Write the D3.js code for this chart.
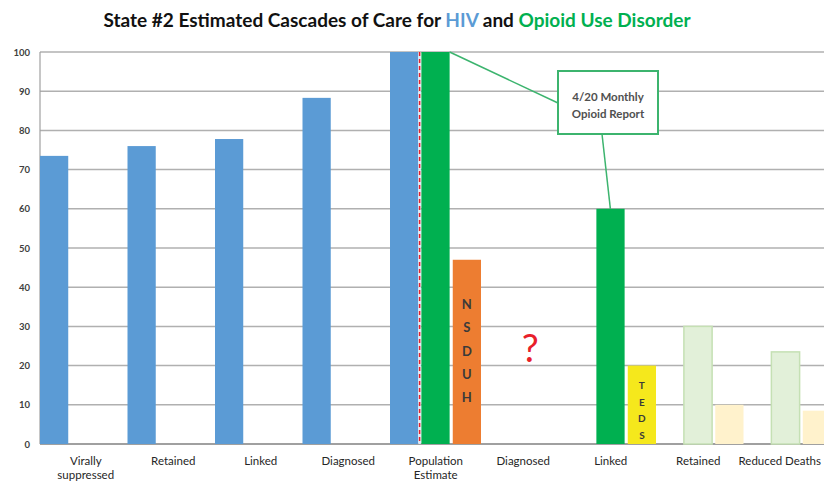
<!DOCTYPE html>
<html>
<head>
<meta charset="utf-8">
<script src="https://cdn.jsdelivr.net/npm/d3@7"></script>
<style>
  body { margin: 0; background: #fff; }
  svg { display: block; font-family: Lato, 'Open Sans', sans-serif; }
</style>
</head>
<body>
<div id="chart"></div>
<script>
// chart data
const categories = ['Virally suppressed', 'Retained', 'Linked', 'Diagnosed', 'Population Estimate',
  'Diagnosed', 'Linked', 'Retained', 'Reduced Deaths'];
const hivValues = [73.5, 76, 77.8, 88.3, 100, null, null, null, null];
const oudValues = [null, null, null, null, 100, null, 60, 30, 23.5];
const sourceValues = [null, null, null, null, 47, null, 20, 10, 8.5];
const sourceLabels = [null, null, null, null, 'NSDUH', null, 'TEDS', null, null];
const yTicks = [0, 10, 20, 30, 40, 50, 60, 70, 80, 90, 100];

const hivColors = categories.map(() => '#5b9bd5');
const oudColors = [null, null, null, null, '#00b050', null, '#00b050', '#e2f0d9', '#e2f0d9'];
const sourceColors = [null, null, null, null, '#ed7d31', null, '#f5e81c', '#fff2cc', '#fff2cc'];

const width = 824;
const height = 482;
const plotLeft = 40;
const plotTop = 52;
const plotBottom = 444;

const svg = d3.select('#chart').append('svg')
  .attr('width', width)
  .attr('height', height);

// title
const title = svg.append('text')
  .attr('x', 397)
  .attr('y', 27)
  .attr('text-anchor', 'middle')
  .style('font-size', '19px')
  .style('font-weight', 'bold')
  .attr('fill', '#111');
title.append('tspan').text('State #2 Estimated Cascades of Care for ');
title.append('tspan').attr('fill', '#5b9bd5').text('HIV');
title.append('tspan').text(' and ');
title.append('tspan').attr('fill', '#00b050').text('Opioid Use Disorder');

const x = d3.scaleBand()
  .domain(d3.range(categories.length))
  .range([plotLeft, plotLeft + 87.5 * categories.length]);

const x1 = d3.scaleBand()
  .domain(['hiv', 'oud', 'src'])
  .range([0, 91])
  .paddingInner(0.1);

const y = d3.scaleLinear().domain([0, 100]).range([plotBottom, plotTop]);

// gridlines
svg.append('g')
  .selectAll('line')
  .data(yTicks)
  .enter()
  .append('line')
  .attr('x1', plotLeft)
  .attr('x2', width)
  .attr('y1', (d) => y(d))
  .attr('y2', (d) => y(d))
  .attr('stroke', (d) => (d === 0 ? '#808080' : '#b0b0b0'))
  .attr('stroke-width', 1.5);

svg.append('line')
  .attr('x1', plotLeft).attr('x2', plotLeft)
  .attr('y1', plotTop).attr('y2', plotBottom)
  .attr('stroke', '#a0a0a0')
  .attr('stroke-width', 1.2);

// y tick labels
svg.append('g')
  .selectAll('text')
  .data(yTicks)
  .enter()
  .append('text')
  .attr('x', 30)
  .attr('y', (d) => y(d) + 3.5)
  .attr('text-anchor', 'end')
  .style('font-size', '9.5px')
  .style('font-weight', 'bold')
  .attr('fill', '#404040')
  .text((d) => d);

// bars
const series = [
  { key: 'hiv', values: hivValues, colors: hivColors },
  { key: 'oud', values: oudValues, colors: oudColors },
  { key: 'src', values: sourceValues, colors: sourceColors }
];

series.forEach((s) => {
  svg.append('g')
    .selectAll('rect')
    .data(s.values.map((v, i) => ({ v, i, c: s.colors[i] })).filter((d) => d.v != null))
    .enter()
    .append('rect')
    .attr('x', (d) => x(d.i) + x1(s.key))
    .attr('y', (d) => y(d.v))
    .attr('width', x1.bandwidth())
    .attr('height', (d) => y(0) - y(d.v))
    .attr('fill', (d) => d.c)
    .attr('stroke', (d) => (d.c === '#e2f0d9' ? '#c5e0b4' : 'none'))
    .attr('stroke-width', 1.5);
});

// vertical letters on the source bars
sourceLabels.forEach((lab, i) => {
  if (!lab) return;
  const cx = x(i) + x1('src') + x1.bandwidth() / 2;
  const big = lab === 'NSDUH';
  const startY = big ? 309 : 389;
  const step = big ? 23.3 : 16.5;
  svg.append('g')
    .selectAll('text')
    .data(lab.split(''))
    .enter()
    .append('text')
    .attr('x', cx)
    .attr('y', (d, k) => startY + k * step)
    .attr('text-anchor', 'middle')
    .style('font-size', big ? '13px' : '10px')
    .style('font-weight', 'bold')
    .attr('fill', '#3a3a3a')
    .text((d) => d);
});

// red dashed separator between HIV and OUD population bars
const sepX = x(4) + x1('oud') - 1.8;
svg.append('line')
  .attr('x1', sepX).attr('x2', sepX)
  .attr('y1', plotTop).attr('y2', plotBottom)
  .attr('stroke', '#dce8f5')
  .attr('stroke-width', 2.5);
svg.append('line')
  .attr('x1', sepX).attr('x2', sepX)
  .attr('y1', plotTop).attr('y2', plotBottom)
  .attr('stroke', '#e8202a')
  .attr('stroke-width', 1.5)
  .attr('stroke-dasharray', '4,3');

// question mark for the unknown diagnosed OUD
svg.append('text')
  .attr('x', x(5) + x.bandwidth() / 2 + 9)
  .attr('y', 362)
  .attr('text-anchor', 'middle')
  .style('font-size', '38px')
  .attr('fill', '#e8202a')
  .text('?');

// callout
const boxX = 558, boxY = 71, boxW = 100, boxH = 63;
svg.append('line')
  .attr('x1', x(4) + x1('oud') + x1.bandwidth()).attr('y1', y(oudValues[4]))
  .attr('x2', boxX).attr('y2', boxY + 32)
  .attr('stroke', '#3cb46e').attr('stroke-width', 1.5);
svg.append('line')
  .attr('x1', boxX + 44).attr('y1', boxY + boxH)
  .attr('x2', x(6) + x1('oud') + 14).attr('y2', y(oudValues[6]))
  .attr('stroke', '#3cb46e').attr('stroke-width', 1.5);
svg.append('rect')
  .attr('x', boxX).attr('y', boxY)
  .attr('width', boxW).attr('height', boxH)
  .attr('fill', '#fff')
  .attr('stroke', '#3cb46e')
  .attr('stroke-width', 2);
svg.append('g')
  .selectAll('text')
  .data(['4/20 Monthly', 'Opioid Report'])
  .enter()
  .append('text')
  .attr('x', boxX + boxW / 2)
  .attr('y', (d, k) => boxY + 30 + k * 17)
  .attr('text-anchor', 'middle')
  .style('font-size', '11.5px')
  .style('font-weight', 'bold')
  .attr('fill', '#505050')
  .text((d) => d);

// category labels
const xLabels = svg.append('g');
categories.forEach((c, i) => {
  const lines = c === 'Virally suppressed' ? ['Virally', 'suppressed']
    : c === 'Population Estimate' ? ['Population', 'Estimate'] : [c];
  const shift = i === categories.length - 1 ? -4 : 2;
  lines.forEach((ln, k) => {
    xLabels.append('text')
      .attr('x', x(i) + x.bandwidth() / 2 + shift)
      .attr('y', 465 + k * 14)
      .attr('text-anchor', 'middle')
      .style('font-size', '11.5px')
      .attr('fill', '#262626')
      .text(ln);
  });
});
</script>
</body>
</html>
